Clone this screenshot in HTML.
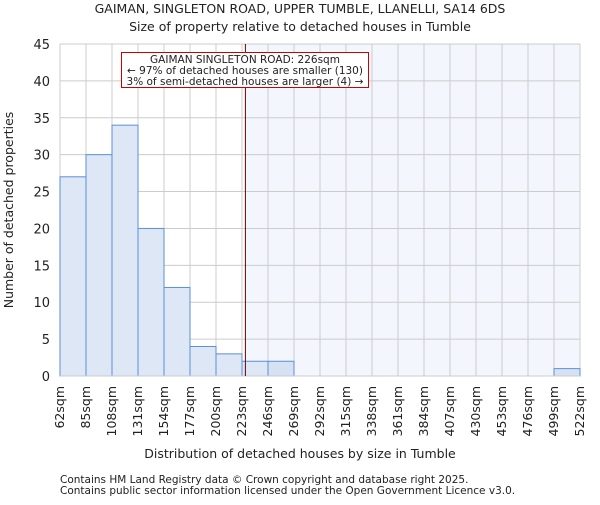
<!DOCTYPE html>
<html><head><meta charset="utf-8"><style>
body{margin:0;background:#fff;font-family:"Liberation Sans","DejaVu Sans",sans-serif}
svg text{font-family:"DejaVu Sans","Liberation Sans",sans-serif;fill:#222}
</style></head><body>
<svg id="c" width="600" height="500">
<text x="300" y="13" text-anchor="middle" font-size="12.5">GAIMAN, SINGLETON ROAD, UPPER TUMBLE, LLANELLI, SA14 6DS</text>
<text x="300" y="31" text-anchor="middle" font-size="12.5">Size of property relative to detached houses in Tumble</text>
<g id="g"></g>
<text x="300" y="458" text-anchor="middle" font-size="12.5">Distribution of detached houses by size in Tumble</text>
<text transform="translate(13,210) rotate(-90)" text-anchor="middle" font-size="12.5">Number of detached properties</text>
<text x="60" y="483" font-size="10.5">Contains HM Land Registry data © Crown copyright and database right 2025.</text>
<text x="60" y="494" font-size="10.5">Contains public sector information licensed under the Open Government Licence v3.0.</text>
</svg>
<script>
const binLabels=["62sqm","85sqm","108sqm","131sqm","154sqm","177sqm","200sqm","223sqm","246sqm","269sqm","292sqm","315sqm","338sqm","361sqm","384sqm","407sqm","430sqm","453sqm","476sqm","499sqm","522sqm"];
const counts=[27,30,34,20,12,4,3,2,2,0,0,0,0,0,0,0,0,0,0,1];
const yTicks=[0,5,10,15,20,25,30,35,40,45];
const marker=226, binStart=62, binStep=23;
const L=60,R=580,T=44,B=376,yMax=45;
const n=counts.length,bw=(R-L)/n;
const x=v=>L+(v-binStart)/binStep*bw;
const y=v=>B-(v/yMax)*(B-T);
const g=document.getElementById('g');
const NS="http://www.w3.org/2000/svg";
function mk(t,a){const e=document.createElementNS(NS,t);for(const k in a)e.setAttribute(k,a[k]);g.appendChild(e);return e;}
const mx=x(marker);
let e=mk('rect',{x:mx,y:T,width:R-mx,height:B-T,fill:'#f3f6fd'});


yTicks.forEach(t=>{
 let l=mk('line',{x1:L,x2:R,y1:y(t),y2:y(t),stroke:'#ccc'});
 
 
 let tx=mk('text',{x:L-10,y:y(t)+5,'text-anchor':'end','font-size':'13'});tx.textContent=t;
 
 
});
binLabels.forEach((s,i)=>{
 const xx=L+i*bw;
 let l=mk('line',{x1:xx,x2:xx,y1:T,y2:B,stroke:'#ccc'});
 
 
 let tx=mk('text',{transform:`translate(${xx+4},${B+10}) rotate(-90)`,'text-anchor':'end','font-size':'12.5'});tx.textContent=s;
 
 
});
counts.forEach((c,i)=>{
 if(!c)return;
 const xx=L+i*bw;
 let r=mk('rect',{x:xx,y:y(c),width:bw,height:B-y(c),fill:xx>=mx-1?'#d6e2f4':'#dde7f5',stroke:'#5b8fd9','stroke-width':1});
 
 
});
let ax=mk('line',{x1:L,x2:R,y1:B,y2:B,stroke:'#ccc'});


let ml=mk('line',{x1:mx,x2:mx,y1:T,y2:B,stroke:'#600','stroke-width':1});


let box=mk('rect',{x:121.5,y:52.5,width:247,height:35,fill:'#fff',stroke:'#c00'});


["GAIMAN SINGLETON ROAD: 226sqm","← 97% of detached houses are smaller (130)","3% of semi-detached houses are larger (4) →"].forEach((s,i)=>{
 let t=mk('text',{x:245,y:63+i*11,'text-anchor':'middle','font-size':'10.5'});t.textContent=s;
 
 
});
</script>
</body></html>
